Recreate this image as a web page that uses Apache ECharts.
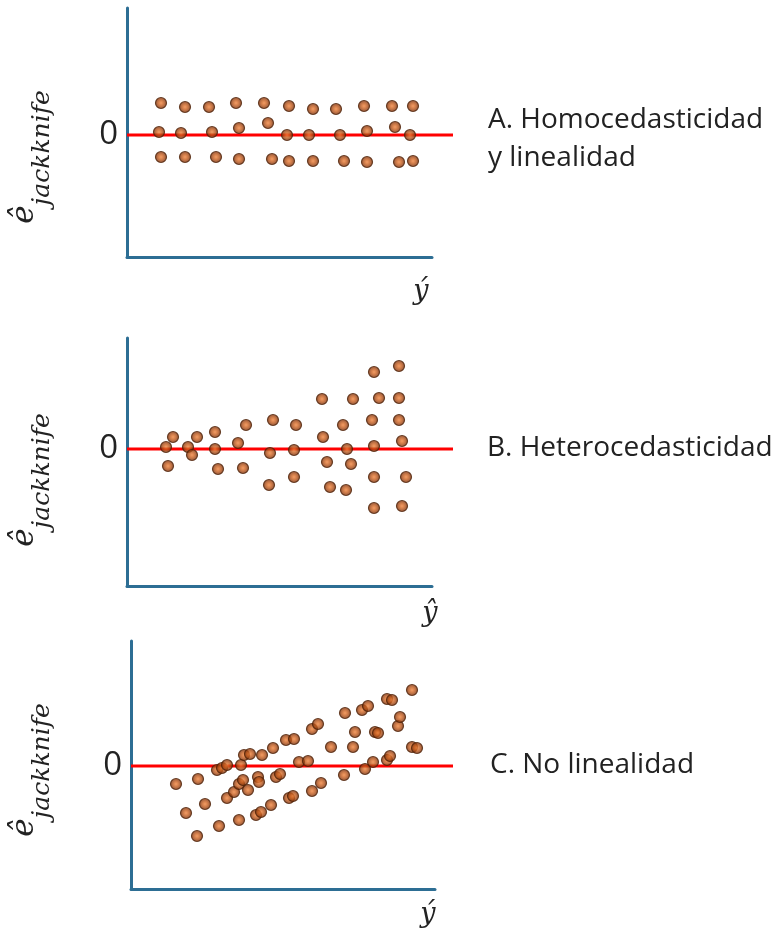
<!DOCTYPE html>
<html>
<head>
<meta charset="utf-8">
<script src="https://cdn.jsdelivr.net/npm/echarts@6/dist/echarts.min.js"></script>
<style>
    html, body { margin: 0; padding: 0; background: #fff; }
    #myChart { width: 775px; height: 934px; }
</style>
</head>
<body>
<div id="myChart"></div>
<script>
    // puntos (x = distancia al eje, y = altura sobre la linea cero)
    var homoX = [34, 58, 82, 109, 137, 162, 186, 209, 237, 265, 286,
                 32, 54, 85, 112, 141, 160, 182, 213, 240, 268, 283,
                 34, 58, 89, 112, 145, 162, 186, 217, 240, 272, 286];
    var homoY = [32, 28, 28, 32, 32, 29, 26, 26, 29, 29, 29,
                 3, 2, 3, 7, 12, 0, 0, 0, 4, 8, 0,
                 -22, -22, -22, -24, -24, -26, -26, -26, -27, -27, -26];

    var heteroX = [39, 46, 41, 61, 65, 70, 88, 88, 91, 111, 119, 116, 143, 146, 142,
                   169, 167, 167, 195, 196, 200, 203, 216, 226, 220, 224, 219,
                   247, 252, 245, 247, 247, 247, 272, 272, 272, 275, 279, 275];
    var heteroY = [2, 12, -17, 2, -6, 12, 17, 0, -20, 6, 24, -19, -4, 29, -36,
                   24, -1, -28, 50, 12, -13, -38, 24, 50, 0, -15, -41,
                   77, 51, 29, 3, -28, -59, 83, 51, 29, 8, -28, -57];

    var nolinX = [45, 55, 66, 67, 74, 88, 86, 91, 96, 96, 103, 108, 108, 112, 110,
                  113, 119, 117, 127, 128, 125, 130, 131, 140, 142, 145, 149, 155,
                  163, 158, 162, 168, 177, 181, 187, 181, 190, 200, 214, 213, 222,
                  224, 231, 237, 234, 242, 244, 247, 256, 261, 256, 259, 267, 269,
                  281, 281, 286];
    var nolinY = [-18, -47, -70, -13, -38, -60, -4, -2, 1, -32, -26, -54, -18, -14, 1,
                  11, 12, -24, -11, -16, -49, -46, 11, -39, 18, -11, -8, 26,
                  27, -32, -30, 4, 5, 37, 42, -25, -17, 19, 53, -9, 19,
                  34, 56, 60, -3, 4, 34, 33, 67, 66, 6, 10, 40, 49,
                  76, 19, 18];

    var panelNames = ['A. Homocedasticidad', 'B. Heterocedasticidad', 'C. No linealidad'];
    var yhatLabels = ['ý', 'ŷ', 'ý'];

    function pairs(xs, ys) {
        var out = [];
        for (var i = 0; i < xs.length; i++) {
            out.push([xs[i], ys[i]]);
        }
        return out;
    }

    var axisColor = '#2d6e94';
    var dotStyle = {
        color: {
            type: 'radial', x: 0.5, y: 0.5, r: 0.5,
            colorStops: [
                {offset: 0, color: '#f0843f'},
                {offset: 0.4, color: '#c9601f'},
                {offset: 0.8, color: '#8c3a10'},
                {offset: 1, color: '#5a2508'}
            ]
        },
        borderColor: '#4e2006',
        borderWidth: 1.2
    };

    // geometria de cada panel: [left, top, width, height, yMin, yMax, anchoLineaRoja]
    var panels = [
        [127, 8, 305, 249, -122, 127, 326],
        [127, 338, 305, 248, -137, 111, 326],
        [131, 641, 304, 248, -123, 125, 322]
    ];
    var datasets = [pairs(homoX, homoY), pairs(heteroX, heteroY), pairs(nolinX, nolinY)];

    var grids = [], xAxes = [], yAxes = [], series = [];
    panels.forEach(function (p, i) {
        grids.push({left: p[0], top: p[1], width: p[2], height: p[3]});
        xAxes.push({
            type: 'value', gridIndex: i, min: 0, max: p[2],
            axisLine: {show: true, onZero: false, lineStyle: {color: axisColor, width: 3}},
            axisTick: {show: false}, axisLabel: {show: false}, splitLine: {show: false}
        });
        yAxes.push({
            type: 'value', gridIndex: i, min: p[4], max: p[5],
            axisLine: {show: true, onZero: false, lineStyle: {color: axisColor, width: 3}},
            axisTick: {show: false}, splitLine: {show: false},
            axisLabel: {
                customValues: [0], margin: 9,
                fontFamily: 'Open Sans', fontSize: 33, color: '#222'
            }
        });
        series.push({
            type: 'scatter', xAxisIndex: i, yAxisIndex: i,
            data: datasets[i], symbolSize: 11, itemStyle: dotStyle, z: 3
        });
    });

    // la linea roja pasa del extremo del eje x: va en una rejilla mas ancha
    panels.forEach(function (p, i) {
        var k = i + 3;
        grids.push({left: p[0], top: p[1], width: p[6], height: p[3]});
        xAxes.push({type: 'value', gridIndex: k, min: 0, max: p[6], show: false});
        yAxes.push({type: 'value', gridIndex: k, min: p[4], max: p[5], show: false});
        series.push({
            type: 'line', xAxisIndex: k, yAxisIndex: k,
            data: [[0, 0], [p[6], 0]], symbol: 'none', silent: true,
            lineStyle: {color: '#ff0000', width: 3}, z: 1
        });
    });

    var graphics = [];
    var nameY = [157, 480, 770];
    var hatPos = [[421, 292], [430, 614], [428, 915]];
    var labelPos = [[488, 120], [487, 448], [490, 765]];
    for (var i = 0; i < 3; i++) {
        graphics.push({
            type: 'text', x: 32, y: nameY[i], rotation: Math.PI / 2,
            style: {
                text: '{e|ê}{s|jackknife}',
                align: 'center', verticalAlign: 'middle',
                rich: {
                    e: {fontFamily: 'DejaVu Serif', fontStyle: 'italic', fontSize: 31, fill: '#222', verticalAlign: 'top', lineHeight: 46},
                    s: {fontFamily: 'DejaVu Serif', fontStyle: 'italic', fontSize: 25, fill: '#222', verticalAlign: 'bottom', lineHeight: 46}
                }
            }
        });
        graphics.push({
            type: 'text', x: hatPos[i][0], y: hatPos[i][1],
            style: {
                text: yhatLabels[i], fontFamily: 'DejaVu Serif', fontStyle: 'italic',
                fontSize: 27, fill: '#222', align: 'center', verticalAlign: 'middle'
            }
        });
        graphics.push({
            type: 'text', x: labelPos[i][0], y: labelPos[i][1],
            style: {
                text: panelNames[i], fontFamily: 'Open Sans', fontSize: 28,
                fill: '#222', align: 'left', verticalAlign: 'middle'
            }
        });
    }
    graphics.push({
        type: 'text', x: 488, y: 158,
        style: {
            text: 'y linealidad', fontFamily: 'Open Sans', fontSize: 28,
            fill: '#222', align: 'left', verticalAlign: 'middle'
        }
    });

    var myChart = echarts.init(document.getElementById('myChart'));
    myChart.setOption({
        animation: false,
        grid: grids,
        xAxis: xAxes,
        yAxis: yAxes,
        series: series,
        graphic: graphics
    });
</script>
</body>
</html>
